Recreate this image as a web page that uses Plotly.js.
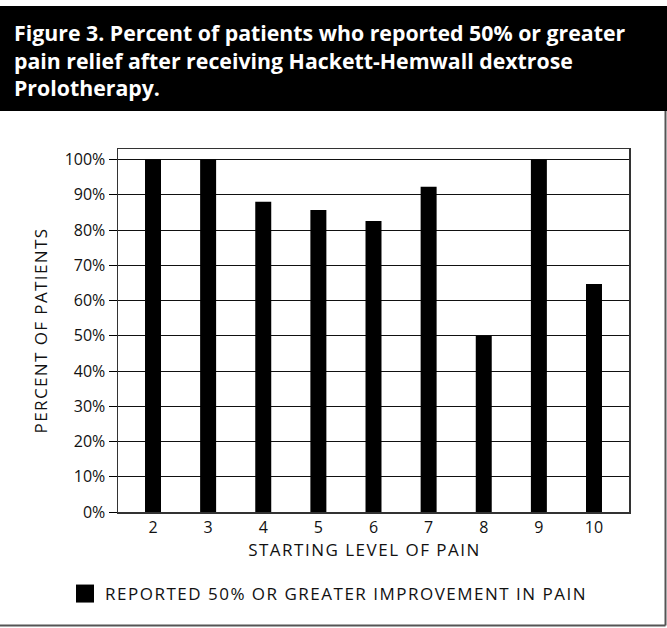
<!DOCTYPE html>
<html>
<head>
<meta charset="utf-8">
<script src="https://cdn.plot.ly/plotly-3.0.1.min.js"></script>
<style>
  html, body { margin: 0; padding: 0; background: #fff; }
  #chart { width: 667px; height: 628px; }
  .xtitle, .legendtext { letter-spacing: 1.5px; }
  .xtitle { transform: translateX(-9px); }
  .ytitle { letter-spacing: 1.4px; }
</style>
</head>
<body>
<div id="chart"></div>
<script>
// Starting pain level (0-10 scale) and share of patients reporting >= 50% relief
const painLevels = [2, 3, 4, 5, 6, 7, 8, 9, 10];
const percentImproved = [100, 100, 88, 85.7, 82.6, 92.3, 50, 100, 64.7];
const yTickValues = [0, 10, 20, 30, 40, 50, 60, 70, 80, 90, 100];
const yTickLabels = yTickValues.map(v => v + '%');

const seriesName = 'REPORTED 50% OR GREATER IMPROVEMENT IN PAIN';
const figureTitle = 'Figure 3. Percent of patients who reported 50% or greater<br>' +
                    'pain relief after receiving Hackett-Hemwall dextrose<br>' +
                    'Prolotherapy.';

const W = 667, H = 628;
const M = { l: 118, r: 38, t: 149, b: 116 };
const plotW = W - M.l - M.r, plotH = H - M.t - M.b;
// pixel -> paper helpers for the decorations around the plot area
const px = x => (x - M.l) / plotW;
const py = y => (H - M.b - y) / plotH;

const font = 'Open Sans, Noto Sans, sans-serif';

const trace = {
  type: 'bar',
  x: painLevels,
  y: percentImproved,
  width: 0.29,
  name: seriesName,
  showlegend: true,
  marker: { color: '#000', line: { width: 0 } },
  hoverinfo: 'x+y'
};

const layout = {
  width: W,
  height: H,
  margin: M,
  paper_bgcolor: '#fff',
  plot_bgcolor: '#fff',
  showlegend: true,
  title: {
    text: figureTitle,
    font: { family: font, size: 21.3, color: '#fff', weight: 700 },
    xref: 'container', yref: 'container',
    x: 14 / W, xanchor: 'left',
    y: 1 - 41 / H, yanchor: 'top'
  },
  xaxis: {
    range: [1.365, 10.635],
    tickvals: painLevels,
    ticks: '',
    showgrid: false,
    zeroline: false,
    showline: true, mirror: true,
    linecolor: '#333', linewidth: 1.5,
    tickfont: { family: font, size: 16, color: '#111' },
    title: { text: 'STARTING LEVEL OF PAIN', font: { family: font, size: 17, color: '#111' }, standoff: 5 },
    fixedrange: true
  },
  yaxis: {
    range: [0, 103],
    tickmode: 'array',
    tickvals: yTickValues,
    ticktext: yTickLabels,
    ticks: 'outside', ticklen: 8, tickwidth: 1, tickcolor: '#000',
    showgrid: true, gridcolor: '#111', gridwidth: 1,
    zeroline: false,
    showline: true, mirror: true,
    linecolor: '#333', linewidth: 1.5,
    tickfont: { family: font, size: 16, color: '#111' },
    title: { text: 'PERCENT OF PATIENTS', font: { family: font, size: 17, color: '#111' }, standoff: 12 },
    fixedrange: true
  },
  legend: {
    orientation: 'h',
    x: px(65), xanchor: 'left',
    y: py(594), yanchor: 'middle',
    font: { family: font, size: 17, color: '#111' },
    bgcolor: 'rgba(0,0,0,0)'
  },
  shapes: [
    // black heading band
    { type: 'rect', xref: 'paper', yref: 'paper', layer: 'below',
      x0: px(0), x1: px(W), y0: py(111), y1: py(6),
      fillcolor: '#000', line: { width: 0 } },
    // figure frame: right and bottom edges
    { type: 'line', xref: 'paper', yref: 'paper',
      x0: px(665.5), x1: px(665.5), y0: py(111), y1: py(625.5),
      line: { color: '#555', width: 2 } },
    { type: 'line', xref: 'paper', yref: 'paper',
      x0: px(0), x1: px(665.5), y0: py(625.5), y1: py(625.5),
      line: { color: '#555', width: 2 } }
  ]
};

Plotly.newPlot('chart', [trace], layout, { displayModeBar: false, staticPlot: true }).then(gd => {
  // enlarge the legend swatch to an 18px square
  gd.querySelectorAll('.legendpoints path').forEach(p => p.setAttribute('d', 'M9,9H-9V-9H9Z'));
});
</script>
</body>
</html>
